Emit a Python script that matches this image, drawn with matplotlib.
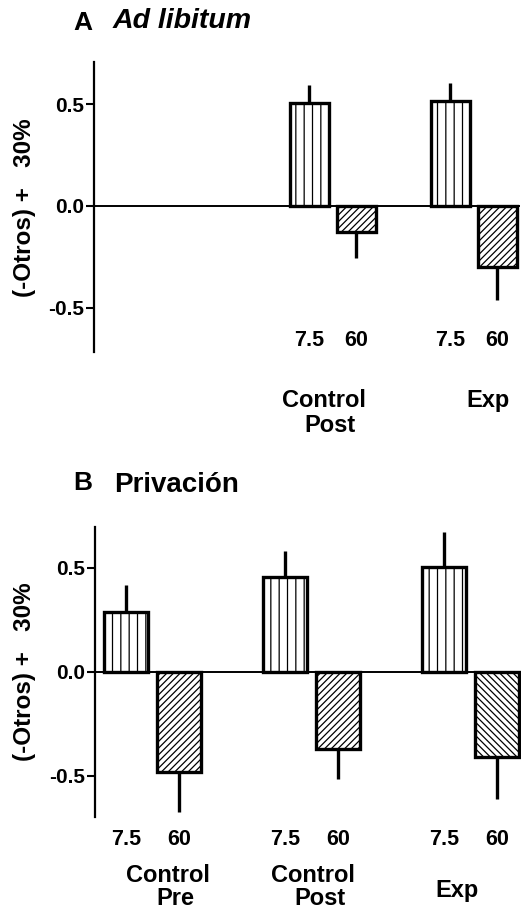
import matplotlib
matplotlib.use("Agg")
import matplotlib.pyplot as plt
from matplotlib.transforms import blended_transform_factory

plt.rcParams['font.family'] = ['Liberation Sans', 'DejaVu Sans']
plt.rcParams['font.weight'] = 'bold'
plt.rcParams['axes.unicode_minus'] = False
plt.rcParams['hatch.linewidth'] = 0.9

# ---- data ----
dose_labels = ["7.5", "60"]

# Panel A (Ad libitum): groups Control Post, Exp
a_groups = ["Control Post", "Exp"]
a_values = [0.506, -0.126, 0.513, -0.300]
a_errors = [0.087, 0.130, 0.090, 0.160]
a_hatches = ["||", "/////", "||", "/////"]

# Panel B (Privación): groups Control Pre, Control Post, Exp
b_groups = ["Control Pre", "Control Post", "Exp"]
b_values = [0.286, -0.484, 0.454, -0.373, 0.503, -0.409]
b_errors = [0.131, 0.190, 0.128, 0.144, 0.170, 0.203]
b_hatches = ["||", "/////", "||", "/////", "||", "\\\\\\\\\\"]

yticks = [-0.5, 0.0, 0.5]
ytick_labels = ["-0.5", "0.0", "0.5"]
ylabel = "(-Otros) +   30%"

W, H = 521, 911
fig = plt.figure(figsize=(W / 100, H / 100), dpi=100)

TICK_FS = 15
DOSE_FS = 15.5
GROUP_FS = 17


def ax_rect(left, top, right, bottom):
    return [left / W, 1 - bottom / H, (right - left) / W, (bottom - top) / H]


def draw_panel(ax, group_starts, values, errors, hatches, xlim, ylim):
    xs = []
    for g in group_starts:
        xs += [g, g + 1]
    ax.set_xlim(*xlim)
    ax.set_ylim(*ylim)
    for s in ['top', 'right', 'bottom']:
        ax.spines[s].set_visible(False)
    ax.spines['left'].set_linewidth(1.6)
    ax.axhline(0, color='black', lw=1.4, zorder=1)
    lower = [e if v < 0 else 0 for v, e in zip(values, errors)]
    upper = [e if v >= 0 else 0 for v, e in zip(values, errors)]
    ax.errorbar(xs, values, yerr=[lower, upper], fmt='none', ecolor='black',
                elinewidth=2.4, capsize=0, zorder=2)
    for x, v, h in zip(xs, values, hatches):
        ax.bar(x, v, width=0.83, facecolor='white', edgecolor='black',
               linewidth=2.4, hatch=h, zorder=3)
    ax.set_xticks([])
    ax.set_yticks(yticks)
    ax.set_yticklabels(ytick_labels, fontsize=TICK_FS, fontweight='bold')
    ax.tick_params(axis='y', length=6, width=1.5, pad=1)
    return xs


# ---- Panel A ----
axA = fig.add_axes(ax_rect(94, 62, 520, 352))
xsA = draw_panel(axA, [3, 6], a_values, a_errors, a_hatches,
                 (-1.585, 7.48), (-0.716, 0.706))
trA = blended_transform_factory(axA.transData, axA.transAxes)
for i, x in enumerate(xsA):
    axA.text(x, 0.041, dose_labels[i % 2], transform=trA, ha='center',
             va='center', fontsize=DOSE_FS, fontweight='bold')
axA.text(3.30, -0.166, "Control", transform=trA, ha='center', va='center',
         fontsize=GROUP_FS, fontweight='bold')
axA.text(3.43, -0.252, "Post", transform=trA, ha='center', va='center',
         fontsize=GROUP_FS, fontweight='bold')
axA.text(6.79, -0.166, "Exp", transform=trA, ha='center', va='center',
         fontsize=GROUP_FS, fontweight='bold')

# ---- Panel B ----
axB = fig.add_axes(ax_rect(95, 526.7, 521, 816.7))
xsB = draw_panel(axB, [0, 3, 6], b_values, b_errors, b_hatches,
                 (-0.585, 7.45), (-0.697, 0.697))
trB = blended_transform_factory(axB.transData, axB.transAxes)
for i, x in enumerate(xsB):
    axB.text(x, -0.080, dose_labels[i % 2], transform=trB, ha='center',
             va='center', fontsize=DOSE_FS, fontweight='bold')
axB.text(0.79, -0.202, "Control", transform=trB, ha='center', va='center',
         fontsize=GROUP_FS, fontweight='bold')
axB.text(0.94, -0.283, "Pre", transform=trB, ha='center', va='center',
         fontsize=GROUP_FS, fontweight='bold')
axB.text(3.53, -0.202, "Control", transform=trB, ha='center', va='center',
         fontsize=GROUP_FS, fontweight='bold')
axB.text(3.66, -0.283, "Post", transform=trB, ha='center', va='center',
         fontsize=GROUP_FS, fontweight='bold')
axB.text(6.25, -0.255, "Exp", transform=trB, ha='center', va='center',
         fontsize=GROUP_FS, fontweight='bold')

# ---- y labels ----
fig.text(25 / W, 1 - 208 / H, ylabel, rotation=90, ha='center', va='center',
         fontsize=17.5, fontweight='bold')
fig.text(25 / W, 1 - 672 / H, ylabel, rotation=90, ha='center', va='center',
         fontsize=17.5, fontweight='bold')

# ---- titles ----
fig.text(82.5 / W, 1 - 30 / H, "A", ha='center', va='baseline',
         fontsize=19, fontweight='bold')
fig.text(113 / W, 1 - 28 / H, "Ad libitum", ha='left', va='baseline',
         fontsize=20.5, fontweight='bold', fontstyle='italic')
fig.text(83 / W, 1 - 490 / H, "B", ha='center', va='baseline',
         fontsize=19, fontweight='bold')
fig.text(114 / W, 1 - 492 / H, "Privación", ha='left', va='baseline',
         fontsize=20, fontweight='bold')

fig.savefig("out.png", dpi=100)
